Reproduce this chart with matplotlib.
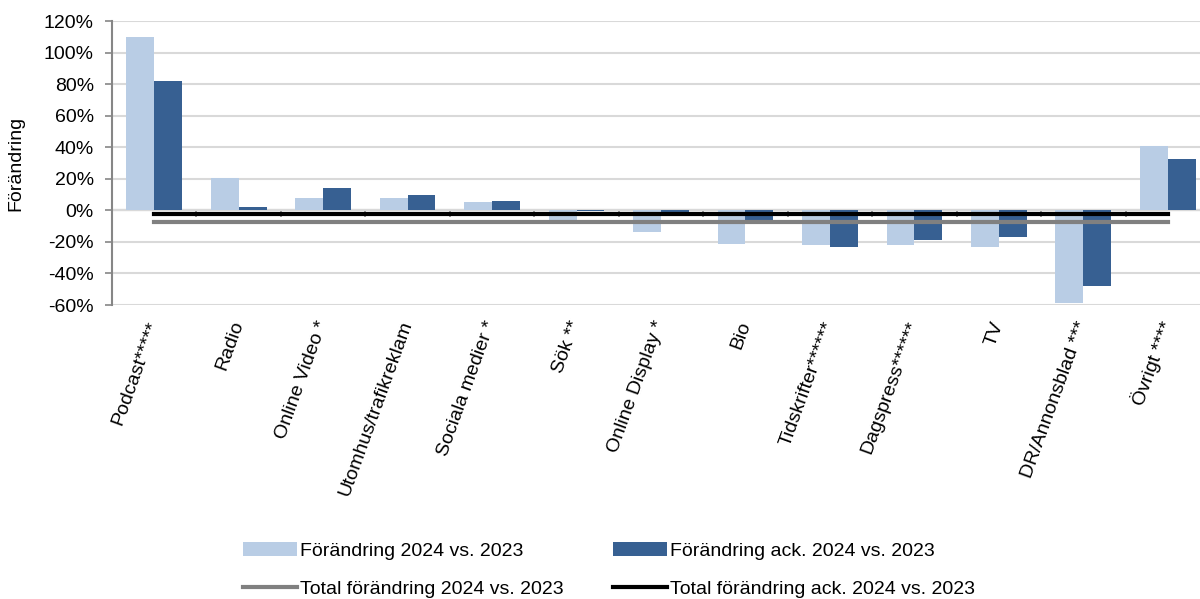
import numpy as np
import matplotlib
matplotlib.use('Agg')
import matplotlib.pyplot as plt
from matplotlib.ticker import FuncFormatter

plt.rcParams['font.family'] = ['Liberation Sans', 'DejaVu Sans']

# Kategorier och värden (procent)
kategorier = ['Podcast*****', 'Radio', 'Online Video *', 'Utomhus/trafikreklam',
              'Sociala medier *', 'Sök **', 'Online Display *', 'Bio',
              'Tidskrifter******', 'Dagspress******', 'TV', 'DR/Annonsblad ***',
              'Övrigt ****']
forandring = [110, 20.5, 8, 7.5, 5.5, -6, -13.5, -21.5, -22, -22, -23, -59, 41]
forandring_ack = [82, 2.3, 14, 10, 6, -0.5, -2, -8.5, -23.5, -19, -17, -48, 32.5]
total = -7.2
total_ack = -2.3

ljus = '#b9cde5'
mork = '#376092'

x = np.arange(len(kategorier))
b = 0.33

fig = plt.figure(figsize=(12, 5.99), dpi=100)
ax = fig.add_axes([112 / 1200, 1 - 305 / 599, (1210 - 112) / 1200, (305 - 21) / 599])

ax.bar(x - b / 2, forandring, width=b, color=ljus, zorder=2,
       label='Förändring 2024 vs. 2023')
ax.bar(x + b / 2, forandring_ack, width=b, color=mork, zorder=2,
       label='Förändring ack. 2024 vs. 2023')
ax.plot(x, [total] * len(x), color='#808080', lw=3, zorder=3,
        label='Total förändring 2024 vs. 2023')
ax.plot(x, [total_ack] * len(x), color='black', lw=3, zorder=4,
        label='Total förändring ack. 2024 vs. 2023')

ax.set_xlim(-0.5, len(x) - 0.5)
ax.set_ylim(-60, 120)
ax.set_yticks(np.arange(-60, 121, 20))
ax.yaxis.set_major_formatter(FuncFormatter(lambda v, p: f'{v:.0f}%'))
ax.grid(axis='y', color='#d9d9d9', lw=1.5, zorder=0)
ax.set_axisbelow(True)

for s in ['top', 'right', 'bottom']:
    ax.spines[s].set_visible(False)
ax.spines['left'].set_color('#868686')
ax.spines['left'].set_linewidth(1.5)
ax.tick_params(axis='y', labelsize=14, color='#868686', length=5, width=1.2, pad=8)

# Kategorietiketter under diagrammet
ax.set_xticks(x)
ax.set_xticklabels(kategorier, rotation=70, ha='right', va='center',
                   rotation_mode='anchor', fontsize=14)
ax.tick_params(axis='x', length=0, pad=12)

# Nollaxel med streck mellan kategorierna
noll = ax.secondary_xaxis(60 / 180)
noll.set_xticks(np.arange(-0.5, len(x), 1))
noll.tick_params(axis='x', direction='out', length=5, width=1.2, color='#868686',
                 labelbottom=False)
noll.spines['bottom'].set_color('#868686')
noll.spines['bottom'].set_linewidth(1.5)

ax.set_ylabel('Förändring', fontsize=14, labelpad=14)

h, l = ax.get_legend_handles_labels()
ordning = [2, 0, 3, 1]
fig.legend([h[i] for i in ordning], [l[i] for i in ordning], ncol=2,
           loc='upper left', bbox_to_anchor=(243 / 1200, 1 - 542 / 599),
           frameon=False, fontsize=14, handlelength=2.8, handletextpad=0.15,
           columnspacing=2.5, labelspacing=1.05, borderpad=0, borderaxespad=0)

plt.savefig('out.png', dpi=100)
